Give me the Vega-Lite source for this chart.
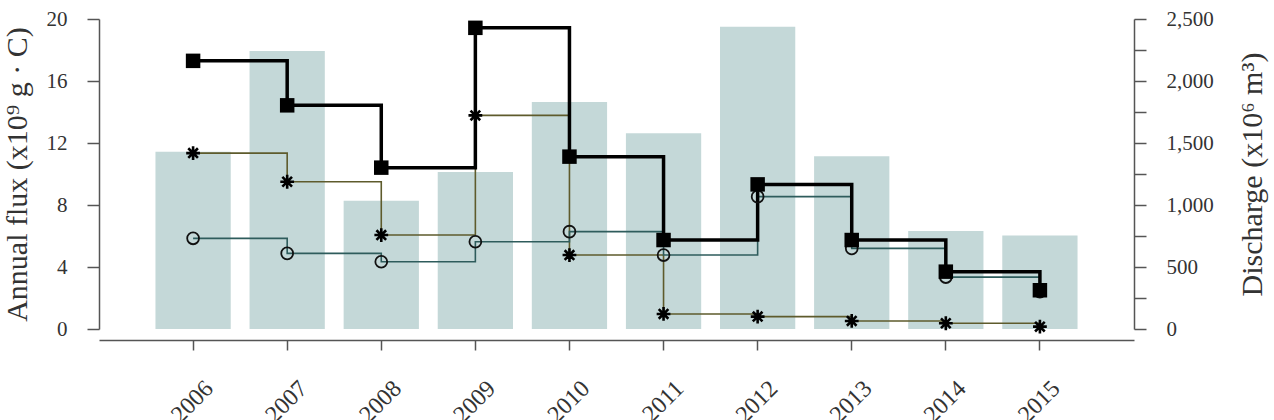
{
  "$schema": "https://vega.github.io/schema/vega-lite/v6.json",
  "width": 1035,
  "height": 310,
  "autosize": "none",
  "padding": {"left": 99, "top": 19, "right": 140, "bottom": 91},
  "background": "white",
  "config": {
    "view": {"stroke": null},
    "font": "Liberation Serif",
    "axis": {
      "labelFont": "Liberation Serif",
      "titleFont": "Liberation Serif",
      "labelColor": "#333333",
      "titleColor": "#333333",
      "domainColor": "#555555",
      "tickColor": "#555555",
      "domainWidth": 1.5,
      "tickWidth": 1.5,
      "grid": false,
      "titleFontWeight": "normal"
    }
  },
  "data": {
    "values": [
      {"year": "2006", "discharge": 1430, "squares": 17.3, "stars": 11.35, "circles": 5.85},
      {"year": "2007", "discharge": 2242, "squares": 14.43, "stars": 9.5, "circles": 4.88},
      {"year": "2008", "discharge": 1035, "squares": 10.41, "stars": 6.06, "circles": 4.34},
      {"year": "2009", "discharge": 1266, "squares": 19.43, "stars": 13.78, "circles": 5.63},
      {"year": "2010", "discharge": 1831, "squares": 11.12, "stars": 4.77, "circles": 6.28},
      {"year": "2011", "discharge": 1578, "squares": 5.74, "stars": 0.97, "circles": 4.77},
      {"year": "2012", "discharge": 2438, "squares": 9.33, "stars": 0.8, "circles": 8.54},
      {"year": "2013", "discharge": 1393, "squares": 5.74, "stars": 0.52, "circles": 5.2},
      {"year": "2014", "discharge": 790, "squares": 3.7, "stars": 0.37, "circles": 3.35},
      {"year": "2015", "discharge": 755, "squares": 2.5, "stars": 0.15, "circles": 2.4}
    ]
  },
  "encoding": {
    "x": {
      "field": "year",
      "type": "ordinal",
      "scale": {"paddingInner": 0.2, "paddingOuter": 0.6},
      "axis": {
        "title": null,
        "orient": "bottom",
        "offset": 11,
        "labelAngle": -45,
        "labelFontSize": 24,
        "tickSize": 10,
        "labelPadding": 26,
        "labelOffset": 8
      }
    }
  },
  "layer": [
    {
      "mark": {"type": "bar", "color": "#c4d8d8"},
      "encoding": {
        "y": {
          "field": "discharge",
          "type": "quantitative",
          "scale": {"domain": [0, 2500], "nice": false},
          "axis": {
            "orient": "right",
            "title": "Discharge (x10⁶ m³)",
            "titleFontSize": 30,
            "titleAngle": -90,
            "titleBaseline": "top",
            "titlePadding": 24,
            "values": [0, 250, 500, 750, 1000, 1250, 1500, 1750, 2000, 2250, 2500],
            "labelExpr": "datum.value % 500 == 0 ? format(datum.value, ',') : ''",
            "labelFontSize": 21,
            "tickSize": 12,
            "labelPadding": 20
          }
        }
      }
    },
    {
      "layer": [
        {
          "mark": {"type": "line", "interpolate": "step-after", "color": "#5e5b2c", "strokeWidth": 1.6},
          "encoding": {"y": {"field": "stars", "type": "quantitative"}}
        },
        {
          "mark": {"type": "line", "interpolate": "step-after", "color": "#2e5c5c", "strokeWidth": 1.6},
          "encoding": {"y": {"field": "circles", "type": "quantitative"}}
        },
        {
          "mark": {"type": "line", "interpolate": "step-after", "color": "#000000", "strokeWidth": 3.5},
          "encoding": {"y": {"field": "squares", "type": "quantitative"}}
        },
        {
          "mark": {"type": "point", "shape": "M0,-1L0,1M-1,0L1,0M-0.7,-0.7L0.7,0.7M-0.7,0.7L0.7,-0.7", "filled": false, "color": "#000000", "strokeWidth": 2.6, "size": 190, "opacity": 1},
          "encoding": {"y": {"field": "stars", "type": "quantitative"}}
        },
        {
          "mark": {"type": "point", "shape": "circle", "filled": false, "color": "#111111", "strokeWidth": 1.8, "size": 140, "opacity": 1},
          "encoding": {"y": {"field": "circles", "type": "quantitative"}}
        },
        {
          "mark": {"type": "point", "shape": "square", "filled": true, "color": "#000000", "size": 210, "opacity": 1},
          "encoding": {
            "y": {
              "field": "squares",
              "type": "quantitative",
              "scale": {"domain": [0, 20], "nice": false},
              "axis": {
                "orient": "left",
                "title": "Annual flux (x10⁹ g · C)",
                "titleFontSize": 30,
                "titlePadding": 14,
                "values": [0, 2, 4, 6, 8, 10, 12, 14, 16, 18, 20],
                "labelExpr": "datum.value % 4 == 0 ? datum.label : ''",
                "labelFontSize": 21,
                "tickSize": 12,
                "labelPadding": 20
              }
            }
          }
        }
      ]
    }
  ],
  "resolve": {"scale": {"y": "independent"}}
}
